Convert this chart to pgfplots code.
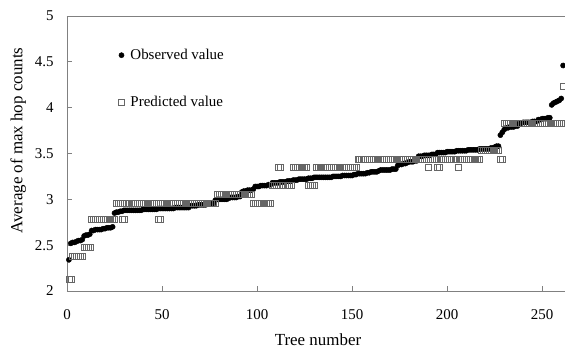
\documentclass[border=0pt]{standalone}
\usepackage{fontspec}
\setmainfont{Liberation Serif}
\usepackage{pgfplots}
\usepackage{pgfplotstable}
\pgfplotsset{compat=1.18}
\pgfplotstableread{
n obs pred
1 2.34 2.13
2 2.52 2.13
3 2.53 2.38
4 2.53 2.38
5 2.54 2.38
6 2.55 2.38
7 2.55 2.38
8 2.56 2.38
9 2.60 2.48
10 2.61 2.48
11 2.61 2.48
12 2.62 2.48
13 2.66 2.78
14 2.66 2.78
15 2.67 2.78
16 2.67 2.78
17 2.67 2.78
18 2.67 2.78
19 2.68 2.78
20 2.68 2.78
21 2.69 2.78
22 2.69 2.78
23 2.69 2.78
24 2.70 2.78
25 2.85 2.78
26 2.86 2.96
27 2.86 2.96
28 2.87 2.96
29 2.87 2.78
30 2.88 2.78
31 2.88 2.96
32 2.88 2.96
33 2.88 2.96
34 2.88 2.96
35 2.88 2.96
36 2.88 2.96
37 2.88 2.96
38 2.88 2.96
39 2.88 2.96
40 2.89 2.96
41 2.89 2.96
42 2.89 2.96
43 2.89 2.96
44 2.89 2.96
45 2.89 2.96
46 2.89 2.96
47 2.89 2.96
48 2.90 2.78
49 2.90 2.78
50 2.90 2.96
51 2.90 2.96
52 2.90 2.96
53 2.90 2.96
54 2.90 2.96
55 2.90 2.96
56 2.90 2.96
57 2.91 2.96
58 2.91 2.96
59 2.91 2.96
60 2.91 2.96
61 2.91 2.96
62 2.91 2.96
63 2.91 2.96
64 2.91 2.96
65 2.93 2.96
66 2.93 2.96
67 2.93 2.96
68 2.93 2.96
69 2.94 2.96
70 2.94 2.96
71 2.94 2.96
72 2.94 2.96
73 2.94 2.96
74 2.95 2.96
75 2.95 2.96
76 2.95 2.96
77 2.95 2.96
78 2.99 2.96
79 3.00 3.06
80 3.00 3.06
81 3.00 3.06
82 3.00 3.06
83 3.00 3.06
84 3.00 3.06
85 3.01 3.06
86 3.02 3.06
87 3.02 3.06
88 3.02 3.06
89 3.02 3.06
90 3.03 3.06
91 3.03 3.06
92 3.08 3.06
93 3.09 3.06
94 3.09 3.06
95 3.10 3.06
96 3.10 3.06
97 3.10 3.06
98 3.11 2.96
99 3.14 2.96
100 3.14 2.96
101 3.14 2.96
102 3.15 2.96
103 3.15 2.96
104 3.15 2.96
105 3.15 2.96
106 3.16 2.96
107 3.16 2.96
108 3.18 3.15
109 3.18 3.15
110 3.18 3.15
111 3.18 3.35
112 3.19 3.35
113 3.19 3.15
114 3.19 3.15
115 3.19 3.15
116 3.20 3.15
117 3.20 3.15
118 3.20 3.15
119 3.21 3.35
120 3.21 3.35
121 3.21 3.35
122 3.22 3.35
123 3.22 3.35
124 3.22 3.35
125 3.22 3.35
126 3.22 3.35
127 3.23 3.15
128 3.23 3.15
129 3.23 3.15
130 3.24 3.15
131 3.24 3.35
132 3.24 3.35
133 3.24 3.35
134 3.24 3.35
135 3.24 3.35
136 3.24 3.35
137 3.24 3.35
138 3.24 3.35
139 3.24 3.35
140 3.25 3.35
141 3.25 3.35
142 3.25 3.35
143 3.25 3.35
144 3.25 3.35
145 3.26 3.35
146 3.26 3.35
147 3.26 3.35
148 3.26 3.35
149 3.26 3.35
150 3.26 3.35
151 3.27 3.35
152 3.27 3.35
153 3.28 3.44
154 3.28 3.44
155 3.28 3.44
156 3.28 3.44
157 3.28 3.44
158 3.29 3.44
159 3.29 3.44
160 3.30 3.44
161 3.30 3.44
162 3.30 3.44
163 3.30 3.44
164 3.31 3.44
165 3.32 3.44
166 3.32 3.44
167 3.32 3.44
168 3.32 3.44
169 3.32 3.44
170 3.32 3.44
171 3.33 3.44
172 3.33 3.44
173 3.33 3.44
174 3.37 3.44
175 3.38 3.44
176 3.38 3.44
177 3.39 3.44
178 3.39 3.44
179 3.40 3.44
180 3.41 3.44
181 3.41 3.44
182 3.41 3.44
183 3.42 3.44
184 3.42 3.44
185 3.47 3.44
186 3.47 3.44
187 3.47 3.44
188 3.48 3.44
189 3.48 3.44
190 3.48 3.35
191 3.48 3.44
192 3.49 3.44
193 3.49 3.44
194 3.49 3.44
195 3.51 3.35
196 3.51 3.35
197 3.51 3.44
198 3.51 3.44
199 3.51 3.44
200 3.52 3.44
201 3.52 3.44
202 3.52 3.44
203 3.52 3.44
204 3.52 3.44
205 3.53 3.44
206 3.53 3.35
207 3.53 3.44
208 3.53 3.44
209 3.53 3.44
210 3.53 3.44
211 3.54 3.44
212 3.54 3.44
213 3.54 3.44
214 3.54 3.44
215 3.54 3.44
216 3.54 3.44
217 3.55 3.44
218 3.55 3.54
219 3.55 3.54
220 3.55 3.54
221 3.55 3.54
222 3.55 3.54
223 3.56 3.54
224 3.56 3.54
225 3.57 3.54
226 3.58 3.54
227 3.58 3.54
228 3.70 3.44
229 3.73 3.44
230 3.76 3.83
231 3.78 3.83
232 3.78 3.83
233 3.79 3.83
234 3.79 3.83
235 3.79 3.83
236 3.80 3.83
237 3.80 3.83
238 3.83 3.83
239 3.83 3.83
240 3.84 3.83
241 3.84 3.83
242 3.84 3.83
243 3.84 3.83
244 3.84 3.83
245 3.85 3.83
246 3.85 3.83
247 3.85 3.83
248 3.87 3.83
249 3.87 3.83
250 3.88 3.83
251 3.88 3.83
252 3.88 3.83
253 3.89 3.83
254 3.89 3.83
255 4.03 3.83
256 4.05 3.83
257 4.06 3.83
258 4.07 3.83
259 4.08 3.83
260 4.10 3.83
261 4.46 4.23
}\datatable
\begin{document}
\begin{tikzpicture}
\begin{axis}[
  scale only axis, width=498bp, height=275bp,
  xmin=0, xmax=262, ymin=2, ymax=5,
  clip=false,
  axis line style={draw=none},
  xtick={0,50,100,150,200,250},
  ytick={2,2.5,3,3.5,4,4.5,5},
  xtick pos=bottom, ytick pos=left,
  tick align=inside,
  major tick length=5bp,
  tick style={draw=gray, line width=0.8bp},
  /pgf/number format/assume math mode=true,
  ticklabel style={font=\fontsize{15}{18}\selectfont},
  yticklabel style={xshift=-10bp},
  xticklabel style={yshift=-15bp},
  xlabel={Tree number},
  ylabel={Average of max hop counts},
  label style={font=\fontsize{17}{20}\selectfont},
  xlabel style={at={(axis description cs:0.504,-0.178)}, anchor=center},
  ylabel style={at={(axis description cs:-0.098,0.547)}, anchor=center},
  legend cell align=left,
  legend style={at={(axis description cs:0.103,0.887)}, anchor=north west,
    draw=none, fill=none, inner sep=0pt, row sep=31bp,
    /tikz/every odd column/.append style={column sep=4bp},
    font=\fontsize{15}{18}\selectfont},
]
\addplot[only marks, mark=*, mark size=2.6bp, black] table[x=n,y=obs]{\datatable};
\addlegendentry{Observed value}
\addplot[only marks, mark=square, mark size=3bp, mark options={draw=black!60, line width=0.5bp, fill=none}] table[x=n,y=pred]{\datatable};
\addlegendentry{Predicted value}
\draw[gray, line width=0.8bp] (rel axis cs:0,1) -- (rel axis cs:0,0) -- (rel axis cs:1,0);
\draw[gray, line width=0.8bp] (rel axis cs:0,1) -- (rel axis cs:1,1);
\coordinate (bl) at (rel axis cs:0,0);
\coordinate (tr) at (rel axis cs:1,1);
\end{axis}
\pgfresetboundingbox
\path ([shift={(-67bp,-61bp)}]bl) rectangle ([shift={(0bp,16bp)}]tr);
\end{tikzpicture}
\end{document}
